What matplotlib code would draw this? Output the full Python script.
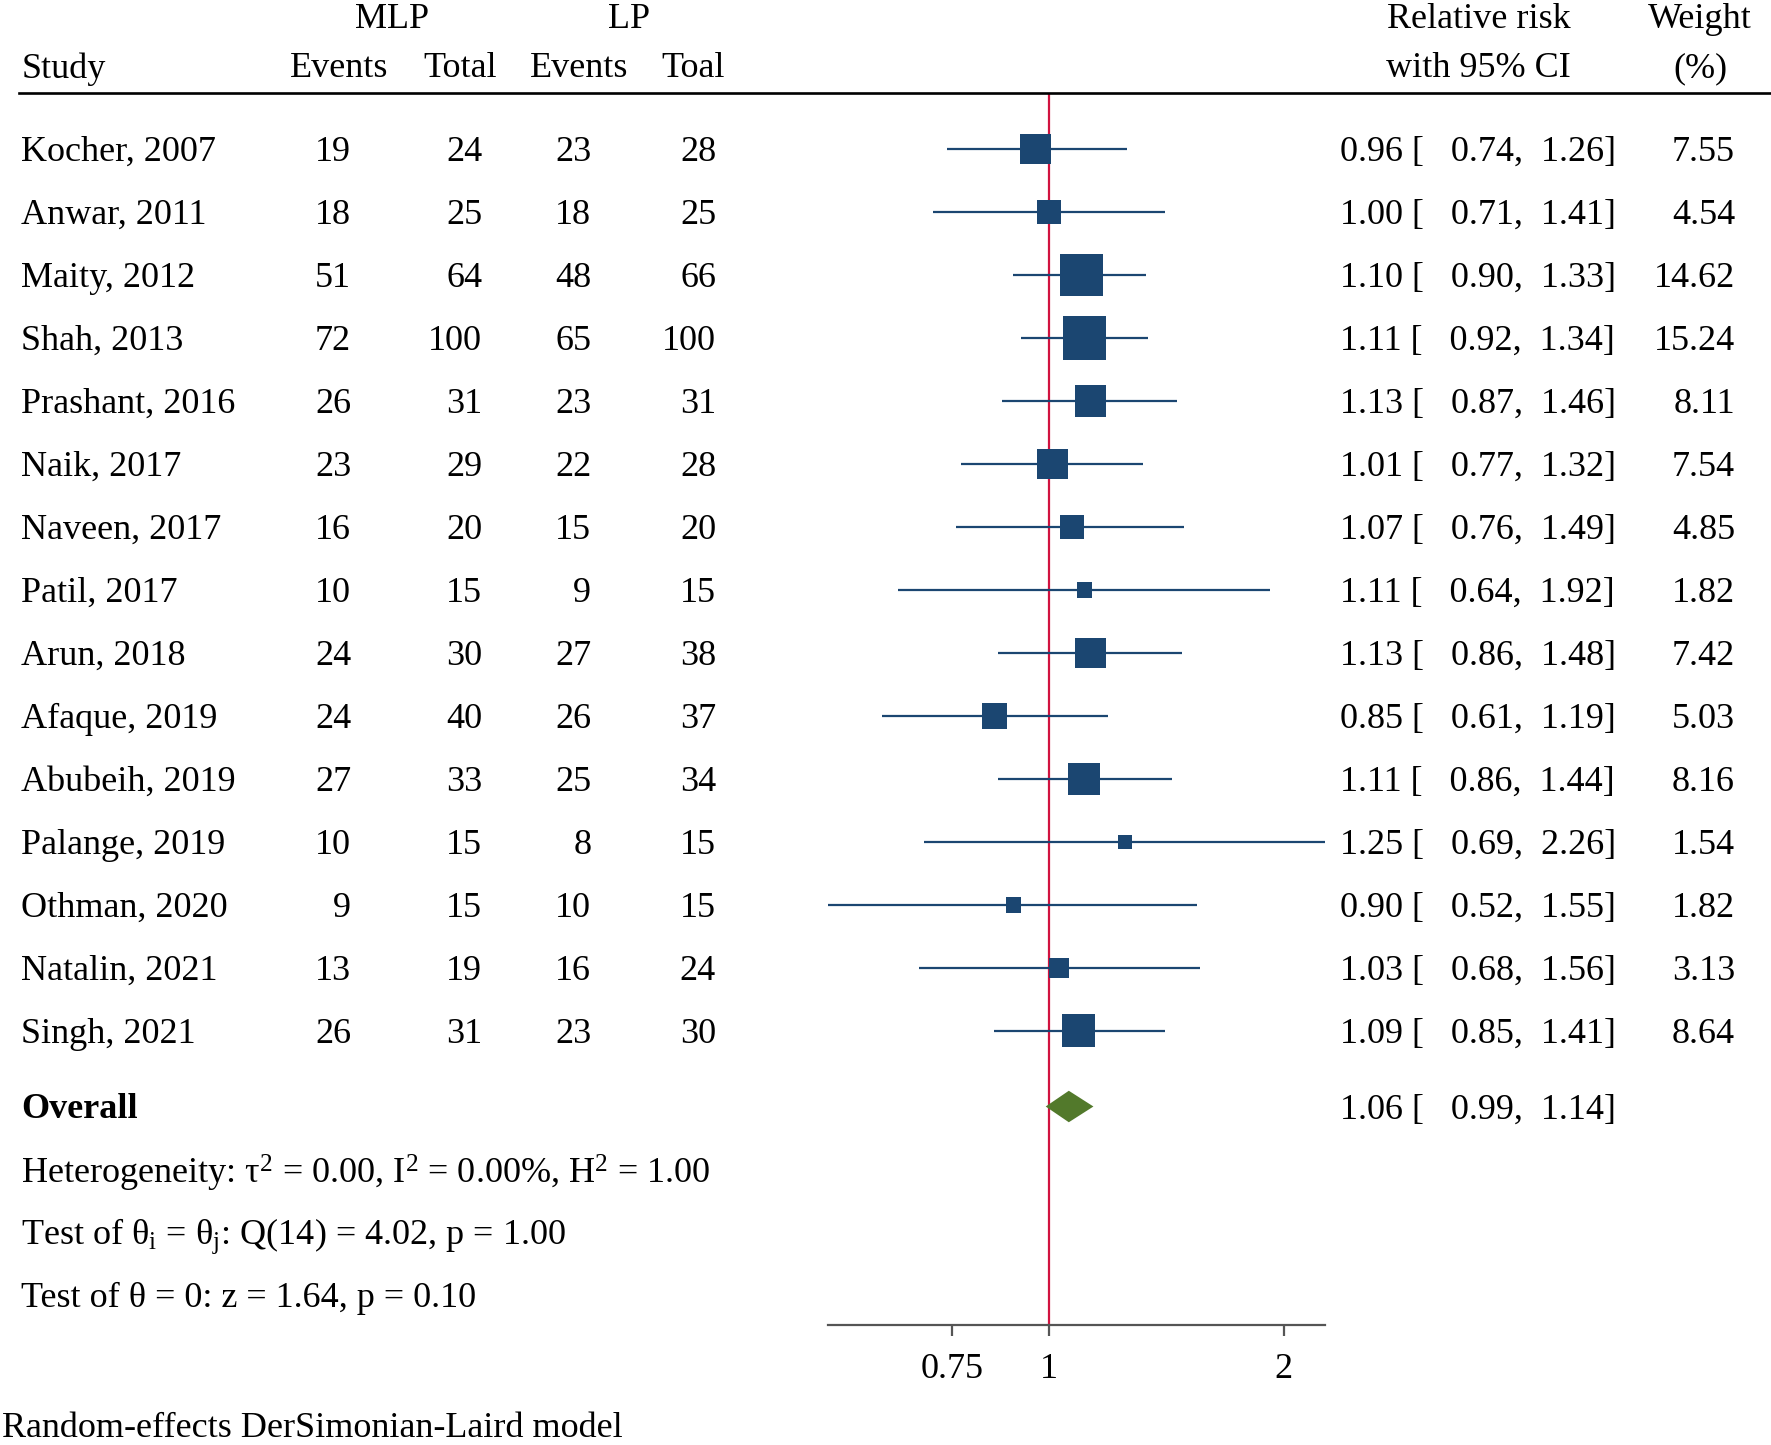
import numpy as np
import matplotlib
matplotlib.use("Agg")
import matplotlib.pyplot as plt
from matplotlib.transforms import blended_transform_factory
from matplotlib.lines import Line2D

plt.rcParams['font.family'] = ['Liberation Serif', 'DejaVu Serif']
plt.rcParams['mathtext.default'] = 'regular'

studies = ["Kocher, 2007", "Anwar, 2011", "Maity, 2012", "Shah, 2013", "Prashant, 2016",
           "Naik, 2017", "Naveen, 2017", "Patil, 2017", "Arun, 2018", "Afaque, 2019",
           "Abubeih, 2019", "Palange, 2019", "Othman, 2020", "Natalin, 2021", "Singh, 2021"]
mlp_events = [19, 18, 51, 72, 26, 23, 16, 10, 24, 24, 27, 10, 9, 13, 26]
mlp_total = [24, 25, 64, 100, 31, 29, 20, 15, 30, 40, 33, 15, 15, 19, 31]
lp_events = [23, 18, 48, 65, 23, 22, 15, 9, 27, 26, 25, 8, 10, 16, 23]
lp_total = [28, 25, 66, 100, 31, 28, 20, 15, 38, 37, 34, 15, 15, 24, 30]
rr = [0.96, 1.00, 1.10, 1.11, 1.13, 1.01, 1.07, 1.11, 1.13, 0.85, 1.11, 1.25, 0.90, 1.03, 1.09]
rr_lo = [0.74, 0.71, 0.90, 0.92, 0.87, 0.77, 0.76, 0.64, 0.86, 0.61, 0.86, 0.69, 0.52, 0.68, 0.85]
rr_hi = [1.26, 1.41, 1.33, 1.34, 1.46, 1.32, 1.49, 1.92, 1.48, 1.19, 1.44, 2.26, 1.55, 1.56, 1.41]
weight = [7.55, 4.54, 14.62, 15.24, 8.11, 7.54, 4.85, 1.82, 7.42, 5.03, 8.16, 1.54, 1.82, 3.13, 8.64]
overall = [1.06, 0.99, 1.14]
stats_lines = [r"Heterogeneity: $\tau^2$ = 0.00, $I^2$ = 0.00%, $H^2$ = 1.00",
               r"Test of $\theta_i$ = $\theta_j$: Q(14) = 4.02, p = 1.00",
               "Test of θ = 0: z = 1.64, p = 0.10"]
xticks = [0.75, 1, 2]
xtick_labels = ["0.75", "1", "2"]

FS = 26
navy = '#1b4671'
green = '#52792b'
red = '#d1123f'

fig = plt.figure(figsize=(17.71, 14.45), dpi=100)
ax = fig.add_axes([0.4675, 0.083, 0.2806, 0.8526])

rows = np.arange(len(studies))
overall_row = len(studies) + 0.2

ax.set_xscale('log')
ax.hlines(rows, rr_lo, rr_hi, color=navy, lw=1.6, zorder=2)
ax.scatter(rr, rows, s=np.array(weight) * 65, marker='s', color=navy, zorder=3, linewidths=0)

d = 0.25
ax.fill([overall[1], overall[0], overall[2], overall[0]],
        [overall_row, overall_row - d, overall_row, overall_row + d],
        color=green, lw=0, zorder=3)

ax.set_xlim(min(rr_lo), max(rr_hi))
ax.set_ylim(18.67, -0.89)
ax.axvline(1, color=red, lw=1.6, zorder=1)

for s in ['top', 'left', 'right']:
    ax.spines[s].set_visible(False)
ax.spines['bottom'].set_color('#555555')
ax.spines['bottom'].set_linewidth(1.6)
ax.set_yticks([])
ax.set_xticks(xticks)
ax.set_xticklabels(xtick_labels, fontsize=FS)
ax.xaxis.set_minor_locator(matplotlib.ticker.NullLocator())
ax.tick_params(axis='x', direction='out', length=8, width=1.6, color='#555555', pad=12)

tr = blended_transform_factory(fig.transFigure, ax.transData)

def txt(x, y, s, ha='left', **kw):
    # small downward nudge so text centres line up with the markers
    ax.text(x, y + 0.055, s, transform=tr, ha=ha, va='center', fontsize=FS, clip_on=False, **kw)

# header
txt(0.2213, -2.11, "MLP", ha='center')
txt(0.3552, -2.11, "LP", ha='center')
txt(0.8349, -2.11, "Relative risk", ha='center')
txt(0.960, -2.11, "Weight", ha='center')
txt(0.0121, -1.33, "Study")
txt(0.1917, -1.33, "Events", ha='center')
txt(0.2596, -1.33, "Total", ha='center')
txt(0.3272, -1.33, "Events", ha='center')
txt(0.3916, -1.33, "Toal", ha='center')
txt(0.8349, -1.33, "with 95% CI", ha='center')
txt(0.960, -1.33, "(%)", ha='center')

fig.add_artist(Line2D([0.011, 1.0], [0.9356, 0.9356], transform=fig.transFigure,
                      color='black', lw=1.9))

for i in rows:
    txt(0.0121, i, studies[i])
    txt(0.1983, i, str(mlp_events[i]), ha='right')
    txt(0.2723, i, str(mlp_total[i]), ha='right')
    txt(0.3338, i, str(lp_events[i]), ha='right')
    txt(0.4043, i, str(lp_total[i]), ha='right')
    txt(0.7564, i, f"{rr[i]:.2f} [   {rr_lo[i]:.2f},  {rr_hi[i]:.2f}]")
    txt(0.9797, i, f"{weight[i]:.2f}", ha='right')

txt(0.0121, overall_row, "Overall", fontweight='bold')
txt(0.7564, overall_row, f"{overall[0]:.2f} [   {overall[1]:.2f},  {overall[2]:.2f}]")
for k, s in enumerate(stats_lines):
    txt(0.0121, overall_row + 1 + k, s)

txt(0.001, 20.26, "Random-effects DerSimonian-Laird model")

fig.savefig("out.png", dpi=100)
